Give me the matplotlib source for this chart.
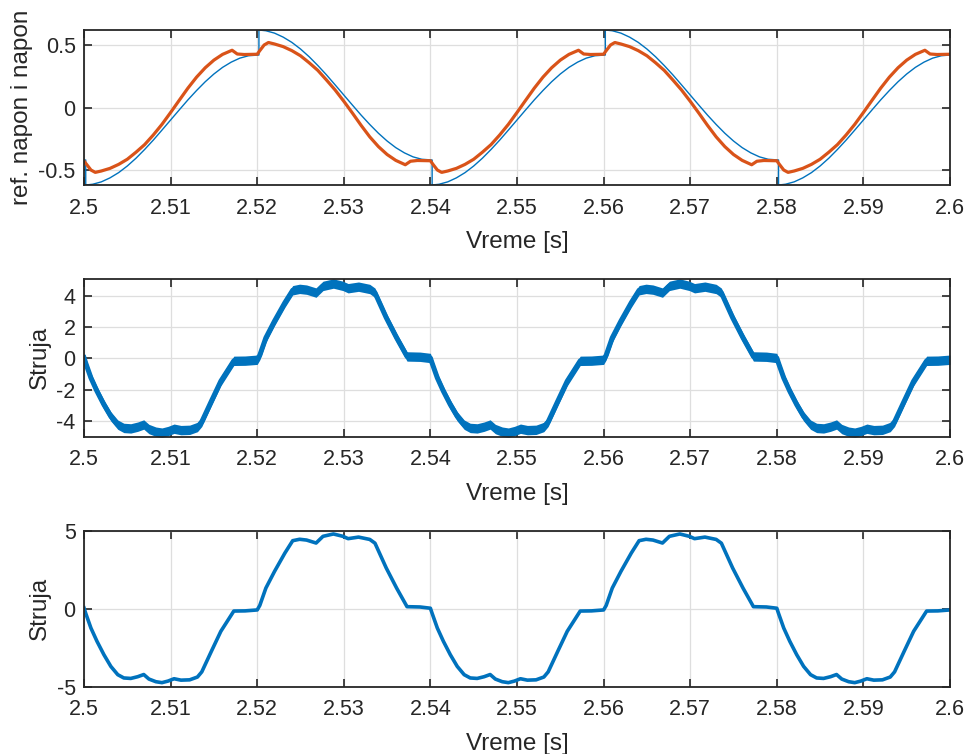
import matplotlib
matplotlib.use("Agg")
import matplotlib.pyplot as plt
import numpy as np

plt.rcParams['font.family'] = ['Liberation Sans', 'DejaVu Sans']
plt.rcParams['axes.unicode_minus'] = False

# ---------------- data ----------------

# reference voltage (blue), with dead-time compensation steps
t_ref = [2.5000, 2.5002, 2.5002, 2.5010, 2.5020, 2.5030, 2.5040, 2.5050, 2.5060, 2.5070,
         2.5080, 2.5090, 2.5100, 2.5110, 2.5120, 2.5130, 2.5140, 2.5150, 2.5160, 2.5170,
         2.5180, 2.5190, 2.5202, 2.5202, 2.5210, 2.5220, 2.5230, 2.5240, 2.5250, 2.5260,
         2.5270, 2.5280, 2.5290, 2.5300, 2.5310, 2.5320, 2.5330, 2.5340, 2.5350, 2.5360,
         2.5370, 2.5380, 2.5390, 2.5402, 2.5402, 2.5410, 2.5420, 2.5430, 2.5440, 2.5450,
         2.5460, 2.5470, 2.5480, 2.5490, 2.5500, 2.5510, 2.5520, 2.5530, 2.5540, 2.5550,
         2.5560, 2.5570, 2.5580, 2.5590, 2.5602, 2.5602, 2.5610, 2.5620, 2.5630, 2.5640,
         2.5650, 2.5660, 2.5670, 2.5680, 2.5690, 2.5700, 2.5710, 2.5720, 2.5730, 2.5740,
         2.5750, 2.5760, 2.5770, 2.5780, 2.5790, 2.5802, 2.5802, 2.5810, 2.5820, 2.5830,
         2.5840, 2.5850, 2.5860, 2.5870, 2.5880, 2.5890, 2.5900, 2.5910, 2.5920, 2.5930,
         2.5940, 2.5950, 2.5960, 2.5970, 2.5980, 2.5990, 2.6000]
v_ref = [-0.420, -0.420, -0.620, -0.614, -0.595, -0.563, -0.521, -0.468, -0.406, -0.336,
         -0.261, -0.181, -0.100, -0.019, 0.061, 0.136, 0.206, 0.268, 0.321, 0.363,
         0.395, 0.414, 0.420, 0.620, 0.614, 0.595, 0.563, 0.521, 0.468, 0.406,
         0.336, 0.261, 0.181, 0.100, 0.019, -0.061, -0.136, -0.206, -0.268, -0.321,
         -0.363, -0.395, -0.414, -0.420, -0.620, -0.614, -0.595, -0.563, -0.521, -0.468,
         -0.406, -0.336, -0.261, -0.181, -0.100, -0.019, 0.061, 0.136, 0.206, 0.268,
         0.321, 0.363, 0.395, 0.414, 0.420, 0.620, 0.614, 0.595, 0.563, 0.521,
         0.468, 0.406, 0.336, 0.261, 0.181, 0.100, 0.019, -0.061, -0.136, -0.206,
         -0.268, -0.321, -0.363, -0.395, -0.414, -0.420, -0.620, -0.614, -0.595, -0.563,
         -0.521, -0.468, -0.406, -0.336, -0.261, -0.181, -0.100, -0.019, 0.061, 0.136,
         0.206, 0.268, 0.321, 0.363, 0.395, 0.414, 0.420]

# measured output voltage (orange)
t_out = [2.5000, 2.5003, 2.5008, 2.5013, 2.5020, 2.5030, 2.5040, 2.5050, 2.5060, 2.5070,
         2.5080, 2.5090, 2.5100, 2.5110, 2.5120, 2.5130, 2.5140, 2.5150, 2.5160, 2.5171,
         2.5177, 2.5185, 2.5200, 2.5203, 2.5208, 2.5213, 2.5220, 2.5230, 2.5240, 2.5250,
         2.5260, 2.5270, 2.5280, 2.5290, 2.5300, 2.5310, 2.5320, 2.5330, 2.5340, 2.5350,
         2.5360, 2.5371, 2.5377, 2.5385, 2.5400,
         2.5403, 2.5408, 2.5413, 2.5420, 2.5430, 2.5440, 2.5450, 2.5460, 2.5470, 2.5480,
         2.5490, 2.5500, 2.5510, 2.5520, 2.5530, 2.5540, 2.5550, 2.5560, 2.5571, 2.5577,
         2.5585, 2.5600, 2.5603, 2.5608, 2.5613, 2.5620, 2.5630, 2.5640, 2.5650, 2.5660,
         2.5670, 2.5680, 2.5690, 2.5700, 2.5710, 2.5720, 2.5730, 2.5740, 2.5750, 2.5760,
         2.5771, 2.5777, 2.5785, 2.5800,
         2.5803, 2.5808, 2.5813, 2.5820, 2.5830, 2.5840, 2.5850, 2.5860, 2.5870, 2.5880,
         2.5890, 2.5900, 2.5910, 2.5920, 2.5930, 2.5940, 2.5950, 2.5960, 2.5971, 2.5977,
         2.5985, 2.6000]
v_out = [-0.428, -0.455, -0.500, -0.519, -0.508, -0.487, -0.455, -0.414, -0.358, -0.297,
         -0.220, -0.135, -0.040, 0.058, 0.155, 0.243, 0.318, 0.379, 0.425, 0.458,
         0.428, 0.424, 0.426, 0.455, 0.500, 0.520, 0.508, 0.487, 0.455, 0.414,
         0.358, 0.297, 0.220, 0.140, 0.050, -0.045, -0.143, -0.235, -0.313, -0.376,
         -0.423, -0.458, -0.430, -0.424, -0.426,
         -0.455, -0.500, -0.519, -0.508, -0.487, -0.455, -0.414, -0.358, -0.297, -0.220,
         -0.135, -0.040, 0.058, 0.155, 0.243, 0.318, 0.379, 0.425, 0.458, 0.428,
         0.424, 0.426, 0.455, 0.500, 0.520, 0.508, 0.487, 0.455, 0.414, 0.358,
         0.297, 0.220, 0.140, 0.050, -0.045, -0.143, -0.235, -0.313, -0.376, -0.423,
         -0.458, -0.430, -0.424, -0.426,
         -0.455, -0.500, -0.519, -0.508, -0.487, -0.455, -0.414, -0.358, -0.297, -0.220,
         -0.135, -0.040, 0.058, 0.155, 0.243, 0.318, 0.379, 0.425, 0.458, 0.428,
         0.424, 0.426]

# load current (mean trace)
t_cur = [2.5000, 2.5002, 2.5008, 2.5015, 2.5023, 2.5031, 2.5039, 2.5046, 2.5054, 2.5062,
         2.5069, 2.5075, 2.5083, 2.5090, 2.5097, 2.5104, 2.5112, 2.5122, 2.5131, 2.5136,
         2.5147, 2.5158, 2.5173, 2.5186, 2.5200, 2.5203, 2.5210, 2.5220, 2.5232, 2.5241,
         2.5249, 2.5257, 2.5268, 2.5276, 2.5288, 2.5299, 2.5305, 2.5317, 2.5330, 2.5336,
         2.5349, 2.5361, 2.5373, 2.5388, 2.5400,
         2.5402, 2.5408, 2.5415, 2.5423, 2.5431, 2.5439, 2.5446, 2.5454, 2.5462, 2.5469,
         2.5475, 2.5483, 2.5490, 2.5497, 2.5504, 2.5512, 2.5522, 2.5531, 2.5536, 2.5547,
         2.5558, 2.5573, 2.5586, 2.5600, 2.5603, 2.5610, 2.5620, 2.5632, 2.5641, 2.5649,
         2.5657, 2.5668, 2.5676, 2.5688, 2.5699, 2.5705, 2.5717, 2.5730, 2.5736, 2.5749,
         2.5761, 2.5773, 2.5788, 2.5800,
         2.5802, 2.5808, 2.5815, 2.5823, 2.5831, 2.5839, 2.5846, 2.5854, 2.5862, 2.5869,
         2.5875, 2.5883, 2.5890, 2.5897, 2.5904, 2.5912, 2.5922, 2.5931, 2.5936, 2.5947,
         2.5958, 2.5973, 2.5986, 2.6000]
i_cur = [0.05, -0.30, -1.24, -2.09, -2.95, -3.70, -4.23, -4.44, -4.47, -4.36,
         -4.22, -4.51, -4.68, -4.74, -4.64, -4.49, -4.58, -4.56, -4.38, -4.05,
         -2.74, -1.45, -0.15, -0.14, -0.08, 0.21, 1.32, 2.39, 3.57, 4.36,
         4.45, 4.40, 4.21, 4.64, 4.79, 4.64, 4.49, 4.59, 4.44, 4.20,
         2.61, 1.32, 0.13, 0.11, 0.03,
         -0.30, -1.24, -2.09, -2.95, -3.70, -4.23, -4.44, -4.47, -4.36, -4.22,
         -4.51, -4.68, -4.74, -4.64, -4.49, -4.58, -4.56, -4.38, -4.05, -2.74,
         -1.45, -0.15, -0.14, -0.08, 0.21, 1.32, 2.39, 3.57, 4.36, 4.45,
         4.40, 4.21, 4.64, 4.79, 4.64, 4.49, 4.59, 4.44, 4.20, 2.61,
         1.32, 0.13, 0.11, 0.03,
         -0.30, -1.24, -2.09, -2.95, -3.70, -4.23, -4.44, -4.47, -4.36, -4.22,
         -4.51, -4.68, -4.74, -4.64, -4.49, -4.58, -4.56, -4.38, -4.05, -2.74,
         -1.45, -0.15, -0.14, -0.08]

# switching ripple on the unfiltered current (half band height, A)
ripple = 0.30

x_ticks = [2.50, 2.51, 2.52, 2.53, 2.54, 2.55, 2.56, 2.57, 2.58, 2.59, 2.60]
x_labels = ["2.5", "2.51", "2.52", "2.53", "2.54", "2.55", "2.56", "2.57", "2.58", "2.59", "2.6"]

BLUE = "#0072BD"
ORANGE = "#D95319"
DARK = "#262626"

fig = plt.figure(figsize=(9.69, 7.54), dpi=100)
left, width = 84 / 969, 866 / 969
ax1 = fig.add_axes([left, 1 - 185 / 754, width, 155 / 754])
ax2 = fig.add_axes([left, 1 - 436.7 / 754, width, 157.7 / 754])
ax3 = fig.add_axes([left, 1 - 686.7 / 754, width, 156 / 754])


def style(ax, yticks, ylim, ylabel):
    ax.set_xlim(2.5, 2.6)
    ax.set_ylim(*ylim)
    ax.set_xticks(x_ticks)
    ax.set_xticklabels(x_labels)
    ax.set_yticks(yticks)
    ax.set_yticklabels([f"{v:g}" for v in yticks])
    ax.tick_params(direction="in", top=True, right=True, length=6, width=1.2,
                   colors=DARK, labelsize=15.5)
    ax.tick_params(axis="x", pad=9)
    ax.tick_params(axis="y", pad=6)
    for s in ax.spines.values():
        s.set_color(DARK)
        s.set_linewidth(1.3)
    ax.grid(True, color="#dedede", linewidth=0.9)
    ax.set_axisbelow(True)
    ax.set_xlabel("Vreme [s]", fontsize=17.5, color=DARK, labelpad=9)
    ax.set_ylabel(ylabel, fontsize=17.5, color=DARK, labelpad=4)


# top: reference and output voltage
ax1.plot(t_ref, v_ref, color=BLUE, linewidth=1.0)
ax1.plot(t_out, v_out, color=ORANGE, linewidth=2.3)
style(ax1, [-0.5, 0, 0.5], (-0.62, 0.62), "ref. napon i napon")

# middle: raw current with ripple
ax2.fill_between(t_cur, np.array(i_cur) - ripple, np.array(i_cur) + ripple,
                 color=BLUE, linewidth=0)
ax2.plot(t_cur, i_cur, color=BLUE, linewidth=3.6)
style(ax2, [-4, -2, 0, 2, 4], (-5.0, 5.08), "Struja")

# bottom: filtered current
ax3.plot(t_cur, i_cur, color=BLUE, linewidth=2.6)
style(ax3, [-5, 0, 5], (-5, 5), "Struja")

fig.savefig("out.png", dpi=100)
